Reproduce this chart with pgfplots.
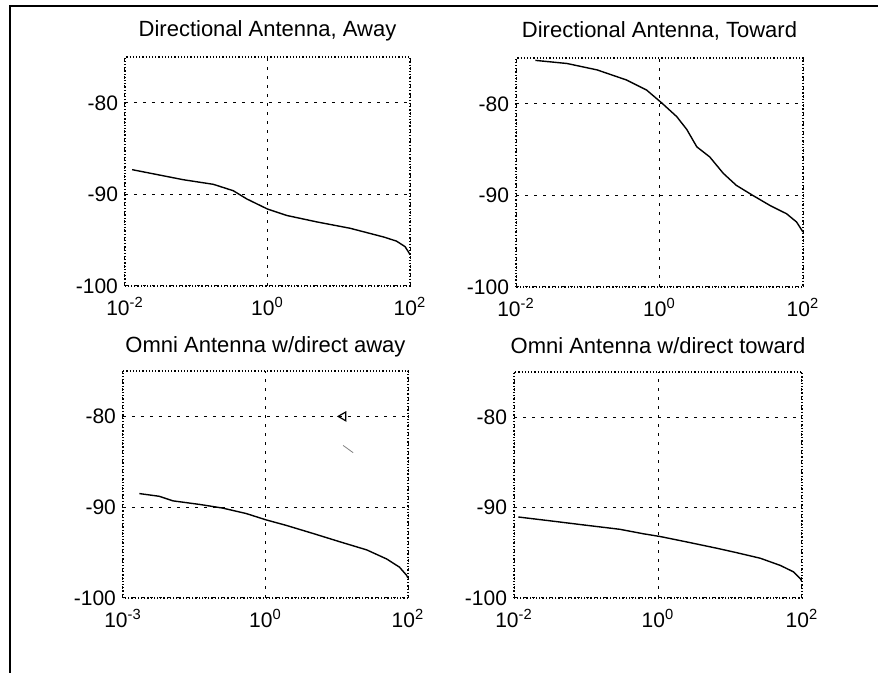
\documentclass[border=0pt]{standalone}
\usepackage{fontspec}
\setmainfont{Liberation Sans}
\usepackage{pgfplots}
\pgfplotsset{compat=1.18}
\pgfplotsset{
  every axis/.append style={
  scale only axis,
  xmin=0.01, xmax=100, ymin=-100, ymax=-75,
  xtick={0.01,1,100}, ytick={-100,-90,-80},
  yticklabels={-100,-90,-80},
  major tick length=0pt, minor tick length=0pt,
  grid=major, major grid style={black, line width=0.5pt, dash pattern=on 1.5pt off 3pt},
  axis line style={black, line width=0.6pt, densely dotted},
  tick label style={font=\fontsize{10.5}{12}\selectfont},
  xticklabel style={yshift=-2pt},
  anchor=north west,
 },
}
\begin{document}
\begin{tikzpicture}
\useasboundingbox (0,0) rectangle (439pt,-336.5pt);
\draw[line width=0.7pt] (5pt,-336.5pt) -- (5pt,-3pt) -- (439pt,-3pt);

\begin{semilogxaxis}[at={(62.5pt,-28.5pt)}, width=142.5pt, height=114.5pt,
  xticklabels={10\textsuperscript{-2},10\textsuperscript{0},10\textsuperscript{2}},
  every axis title/.style={at={(0.5,1)}, anchor=base, yshift=10pt, font=\fontsize{11}{13}\selectfont},
  title={Directional Antenna, Away}]
\addplot[black, line width=0.7pt, no marks] coordinates {
(0.01259,-87.3) (0.06607,-88.4) (0.1738,-88.9) (0.3311,-89.6) (0.5129,-90.5)
(1,-91.6) (1.862,-92.3) (4.898,-93.0) (14.45,-93.7) (42.66,-94.65)
(64.57,-95.1) (85.11,-95.7) (95.50,-96.3) (100,-96.6)};
\end{semilogxaxis}

\begin{semilogxaxis}[at={(258pt,-29pt)}, width=143.5pt, height=114.5pt,
  xticklabels={10\textsuperscript{-2},10\textsuperscript{0},10\textsuperscript{2}},
  every axis title/.style={at={(0.5,1)}, anchor=base, yshift=10pt, font=\fontsize{11}{13}\selectfont},
  title={Directional Antenna, Toward}]
\addplot[black, line width=0.7pt, no marks] coordinates {
(0.01862,-75.26) (0.05129,-75.6) (0.1349,-76.3) (0.3467,-77.4) (0.6607,-78.5)
(1.072,-79.9) (1.738,-81.4) (2.399,-82.8) (3.311,-84.7) (5.012,-85.8)
(7.762,-87.6) (11.75,-88.9) (19.95,-90.0) (34.67,-91.1) (58.88,-92.0)
(81.28,-92.9) (100,-94.0)};
\end{semilogxaxis}

\begin{semilogxaxis}[at={(61.5pt,-185.5pt)}, width=142.5pt, height=113.5pt,
  xticklabels={10\textsuperscript{-3},10\textsuperscript{0},10\textsuperscript{2}},
  every axis title/.style={at={(0.5,1)}, anchor=base, yshift=9pt, font=\fontsize{11}{13}\selectfont},
  title={Omni Antenna w/direct away}]
\addplot[black, line width=0.7pt, no marks] coordinates {
(0.01698,-88.5) (0.03236,-88.8) (0.05012,-89.3) (0.1202,-89.7) (0.2512,-90.1)
(0.5370,-90.7) (1.023,-91.4) (1.950,-92.0) (4.677,-92.9) (10.96,-93.8)
(26.30,-94.7) (50.12,-95.7) (75.86,-96.6) (95.50,-97.5) (100,-97.8)};
\addplot[only marks, mark=triangle, mark size=2.5pt, mark options={rotate=90, line width=0.6pt, solid}] coordinates {(12.3,-80)};
\addplot[gray, line width=0.4pt, no marks] coordinates {(12.3,-83.2) (17,-84.0)};
\end{semilogxaxis}

\begin{semilogxaxis}[at={(257pt,-186pt)}, width=144pt, height=113pt,
  xticklabels={10\textsuperscript{-2},10\textsuperscript{0},10\textsuperscript{2}},
  every axis title/.style={at={(0.5,1)}, anchor=base, yshift=9pt, font=\fontsize{11}{13}\selectfont},
  title={Omni Antenna w/direct toward}]
\addplot[black, line width=0.7pt, no marks] coordinates {
(0.01148,-91.04) (0.03467,-91.5) (0.1023,-91.96) (0.2951,-92.4) (0.6310,-92.9)
(1.072,-93.2) (2.512,-93.8) (6.607,-94.5) (12.59,-95.0) (26.30,-95.6)
(50.12,-96.4) (75.86,-97.1) (95.50,-97.9) (100,-98.2)};
\end{semilogxaxis}
\end{tikzpicture}
\end{document}
